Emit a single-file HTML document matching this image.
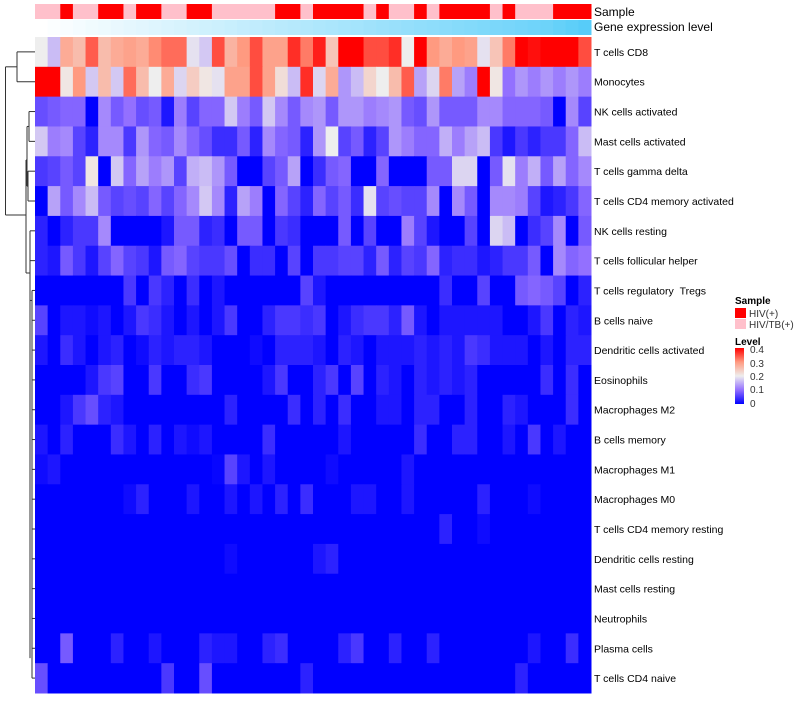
<!DOCTYPE html>
<html><head><meta charset="utf-8">
<style>
body{margin:0;background:#fff;}
svg text{font-family:"Liberation Sans",Arial,sans-serif;}
</style></head>
<body>
<svg id="chart" width="800" height="700" xmlns="http://www.w3.org/2000/svg">
<g id="dendro" stroke="#333" stroke-width="1" fill="none"></g>
<g id="cells"></g>
<g id="annot"></g>
<g id="labels"></g>
<text x="594" y="16" font-size="12">Sample</text>
<text x="594" y="31" font-size="12">Gene expression level</text>
<g>
<text x="735" y="304" font-size="10" font-weight="bold">Sample</text>
<rect x="735" y="308" width="11" height="10" fill="#FF0000"/>
<text x="749" y="317" font-size="10" fill="#333">HIV(+)</text>
<rect x="735" y="319" width="11" height="10" fill="#FFC0CB"/>
<text x="749" y="328" font-size="10" fill="#333">HIV/TB(+)</text>
<text x="735" y="345" font-size="10" font-weight="bold">Level</text>
<defs><linearGradient id="lg" x1="0" y1="1" x2="0" y2="0">
<stop offset="0" stop-color="#0000FF"/><stop offset="0.25" stop-color="#9370FF"/><stop offset="0.5" stop-color="#EEEEEE"/><stop offset="0.75" stop-color="#FF9A80"/><stop offset="1" stop-color="#FF0000"/></linearGradient></defs>
<rect x="735" y="348" width="9" height="56" fill="url(#lg)"/>
<text x="750" y="353" font-size="10" fill="#333">0.4</text>
<text x="750" y="367" font-size="10" fill="#333">0.3</text>
<text x="750" y="380" font-size="10" fill="#333">0.2</text>
<text x="750" y="393" font-size="10" fill="#333">0.1</text>
<text x="750" y="407" font-size="10" fill="#333">0</text>
</g>
</svg>
<script>
const rowNames=["T cells CD8","Monocytes","NK cells activated","Mast cells activated","T cells gamma delta","T cells CD4 memory activated","NK cells resting","T cells follicular helper","T cells regulatory \u00a0Tregs","B cells naive","Dendritic cells activated","Eosinophils","Macrophages M2","B cells memory","Macrophages M1","Macrophages M0","T cells CD4 memory resting","Dendritic cells resting","Mast cells resting","Neutrophils","Plasma cells","T cells CD4 naive"];
const sampleGroups=["T","T","H","T","T","H","H","T","H","H","T","T","H","H","T","T","T","T","T","H","H","T","H","H","H","H","T","H","T","T","H","T","H","H","H","H","T","H","T","T","T","H","H","H"];
const geneExpr=[0,0.02,0.04,0.06,0.08,0.1,0.12,0.14,0.16,0.18,0.2,0.22,0.24,0.26,0.28,0.3,0.32,0.34,0.36,0.38,0.4,0.42,0.44,0.46,0.48,0.5,0.52,0.54,0.56,0.58,0.6,0.62,0.64,0.66,0.68,0.7,0.72,0.74,0.76,0.78,0.8,0.84,0.88,0.92];
const rowCD8=[.2,.16,.28,.26,.34,.26,.28,.29,.28,.31,.33,.33,.19,.17,.35,.27,.3,.35,.29,.29,.37,.32,.38,.25,.4,.4,.35,.35,.37,.2,.4,.3,.28,.3,.29,.19,.25,.32,.4,.39,.4,.4,.4,.35];
const rowMono=[.4,.4,.21,.3,.17,.26,.17,.33,.26,.2,.28,.18,.24,.21,.19,.29,.29,.35,.29,.22,.16,.37,.18,.28,.13,.16,.23,.2,.26,.34,.14,.18,.32,.14,.11,.4,.21,.1,.13,.11,.13,.11,.13,.11];
const rowNKact=[.07,.08,.09,.09,0,.12,.08,.1,.07,.08,.02,.11,.06,.09,.09,.17,.11,.08,.17,.12,.08,.12,.13,.08,.13,.13,.11,.12,.13,.08,.07,.13,.08,.08,.08,.12,.12,.09,.09,.09,.08,0,.12,.06];
const rowMastAct=[.17,.11,.12,.06,.03,.12,.12,.05,.13,.09,.08,.12,.09,.07,.04,.04,.08,.03,.12,.09,.08,.03,.13,.2,.06,.08,.03,.06,.13,.11,.09,.09,.15,.11,.14,.16,.05,.02,.05,.03,.05,.05,.09,.16];
const rowGD=[.05,.06,.08,.06,.21,0,.17,.09,.14,.11,.13,.06,.15,.16,.13,.08,0,0,.06,.08,.14,0,.04,.08,.09,0,0,.09,0,0,0,.08,.08,.18,.18,0,.08,.19,.11,.15,.08,.14,.09,.12];
const rowCD4MA=[0,.14,.08,.12,.16,.08,.06,.07,.06,.09,.06,.09,.12,.17,.12,.03,.14,.11,0,.09,.06,.03,.09,.06,.08,.04,.19,.06,.07,.06,.06,.12,0,.12,.08,0,.12,.12,.11,.06,.02,.03,.05,.09];
const rowNKrest=[.03,0,.03,.05,.05,.12,0,0,0,0,.02,.08,.08,.03,.04,0,.08,.08,0,.05,.04,0,0,0,.08,0,.06,0,0,.11,.06,.02,0,0,.06,0,.18,.16,0,.04,.06,.12,0,.08];
const rowTfh=[.03,.02,.08,.05,.02,.06,.09,.06,.05,.02,.08,.09,.06,.05,.05,.07,0,.04,.04,0,.06,0,.05,.05,.06,.06,.03,.08,.03,.06,.05,.09,.03,.04,.04,.02,.03,.05,.05,.08,0,.12,.09,.1];
const rowTreg=[0,0,0,0,0,0,0,.05,0,.05,.03,0,.04,0,.02,0,0,0,0,0,0,.06,.02,0,0,0,0,0,0,0,0,0,.04,0,0,.06,0,0,.08,.09,.08,.06,0,.03];
const rowBnaive=[.06,0,.02,.02,.01,.02,0,.02,.05,.04,.02,0,.02,0,.02,.05,0,0,.03,.05,.05,.04,.05,0,.02,.04,.05,.05,.03,.08,.02,0,.02,.02,.02,.02,.02,0,0,.02,.05,0,.03,.02];
const rowDCact=[.02,0,.04,.02,0,.02,.03,0,.01,.03,.02,.03,.03,.02,0,0,0,.01,0,.03,.03,.03,.02,0,.03,.02,0,.02,.02,.02,.03,.02,.03,.02,.05,.04,.02,.02,.02,0,.02,0,.03,.03];
const rowEos=[0,0,0,0,.02,.05,.06,0,0,.05,0,0,.04,.05,0,0,0,0,.02,.05,0,0,.03,.05,0,.06,0,.03,.02,0,.03,.02,.03,.02,.03,0,0,0,0,0,.04,0,.04,0];
const rowM2=[0,0,.02,.05,.07,.03,.02,0,0,0,0,0,0,0,0,.03,0,0,0,0,.04,0,.03,0,.04,0,0,.02,.02,0,.03,.03,0,0,.03,0,0,.03,.02,0,0,0,.04,0];
const rowBmem=[.02,0,.03,0,0,0,.04,.02,0,.03,0,.02,.01,.02,0,0,0,0,.04,0,0,0,0,0,.02,0,0,0,0,0,.04,0,0,.03,.03,0,0,.02,0,.05,0,.02,0,0];
const rowM1=[.01,.02,0,0,0,0,0,0,0,0,0,0,0,0,.005,.06,.02,0,.02,0,0,0,0,.01,0,0,0,0,0,.02,0,0,0,0,0,0,0,0,0,0,0,0,0,0];
const rowM0=[0,0,0,0,0,0,0,.01,.03,0,0,0,.02,0,0,.02,0,.02,0,.03,0,.04,0,0,0,.02,.02,0,0,.02,0,0,0,0,0,.03,0,0,0,.01,0,0,0,0];
const rowCD4MR=[0,0,0,0,0,0,0,0,0,0,0,0,0,0,0,0,0,0,0,0,0,0,0,0,0,0,0,0,0,0,0,0,.03,0,0,.01,0,0,0,0,0,0,0,0];
const rowDCrest=[0,0,0,0,0,0,0,0,0,0,0,0,0,0,0,.01,0,0,0,0,0,0,.02,.03,0,0,0,0,0,0,0,0,0,0,0,0,0,0,0,0,0,0,0,0];
const rowMastRest=[0,0,0,0,0,0,0,0,0,0,0,0,0,0,0,0,0,0,0,0,0,0,0,0,0,0,0,0,0,0,0,0,0,0,0,0,0,0,0,0,0,0,0,0];
const rowNeut=[0,0,0,0,0,0,0,0,0,0,0,0,0,0,0,0,0,0,0,0,0,0,0,0,0,0,0,0,0,0,0,0,0,0,0,0,0,0,0,0,0,0,0,0];
const rowPlasma=[0,0,.08,0,0,0,.03,0,0,.02,0,0,0,.03,.02,.02,0,0,.03,.04,0,0,0,0,.03,.05,0,0,.03,0,0,.03,0,0,0,0,0,0,0,.02,0,0,.04,0];
const rowCD4naive=[.07,0,0,0,0,0,0,0,0,0,.05,0,0,.07,0,0,0,0,0,0,0,.03,0,0,0,0,0,0,0,0,0,0,0,0,0,0,0,0,.03,0,0,0,0,0];
const matrix=[rowCD8,rowMono,rowNKact,rowMastAct,rowGD,rowCD4MA,rowNKrest,rowTfh,rowTreg,rowBnaive,rowDCact,rowEos,rowM2,rowBmem,rowM1,rowM0,rowCD4MR,rowDCrest,rowMastRest,rowNeut,rowPlasma,rowCD4naive];

const NS="http://www.w3.org/2000/svg";
const X0=35,X1=591,Y0=37,Y1=693;
const nC=sampleGroups.length,nR=rowNames.length;
const cw=(X1-X0)/nC,rh=(Y1-Y0)/nR;
function xPos(c){return X0+c*cw;}
function yPos(r){return Y0+r*rh;}
const stops=[[0,[0,0,255]],[0.1,[147,112,255]],[0.2,[238,238,238]],[0.3,[255,154,128]],[0.4,[255,0,0]]];
function color(v){
  v=Math.max(0,Math.min(0.4,v));
  for(let i=0;i<stops.length-1;i++){
    const a=stops[i],b=stops[i+1];
    if(v<=b[0]){const t=(v-a[0])/(b[0]-a[0]);
      return 'rgb('+a[1].map((x,k)=>Math.round(x+(b[1][k]-x)*t)).join(',')+')';}
  }
  return 'rgb(255,0,0)';
}
function geneColor(t){
  const a=[255,255,255],b=[72,200,248];
  return 'rgb('+a.map((x,k)=>Math.round(x+(b[k]-x)*t)).join(',')+')';
}
const cells=document.getElementById('cells');
matrix.forEach((row,r)=>{
  row.forEach((v,c)=>{
    const el=document.createElementNS(NS,'rect');
    el.setAttribute('x',xPos(c));el.setAttribute('y',yPos(r));
    el.setAttribute('width',cw+0.5);el.setAttribute('height',rh+0.5);
    el.setAttribute('fill',color(v));
    
    
    cells.appendChild(el);
  });
});
const annot=document.getElementById('annot');
sampleGroups.forEach((g,c)=>{
  const el=document.createElementNS(NS,'rect');
  el.setAttribute('x',xPos(c));el.setAttribute('y',4);
  el.setAttribute('width',cw+0.5);el.setAttribute('height',15);
  el.setAttribute('fill',g==='H'?'#FF0000':'#FFC0CB');
  
  
  annot.appendChild(el);
});
geneExpr.forEach((t,c)=>{
  const el=document.createElementNS(NS,'rect');
  el.setAttribute('x',xPos(c));el.setAttribute('y',20);
  el.setAttribute('width',cw+0.5);el.setAttribute('height',15);
  el.setAttribute('fill',geneColor(t));
  
  
  annot.appendChild(el);
});
const labels=document.getElementById('labels');
rowNames.forEach((n,r)=>{
  const el=document.createElementNS(NS,'text');
  el.setAttribute('x',594);el.setAttribute('y',yPos(r)+rh/2+4);
  el.setAttribute('font-size','10.5');
  el.textContent=n;
  
  
  labels.appendChild(el);
});
const dendro=document.getElementById('dendro');
function yc(r){return yPos(r)+rh/2;}
const segs=[
 [17,yc(0),35,yc(0)],[17,yc(1),35,yc(1)],[17,yc(0),17,yc(1)],
 [5.5,(yc(0)+yc(1))/2,17,(yc(0)+yc(1))/2],
 [5.5,(yc(0)+yc(1))/2,5.5,215],[5.5,215,26,215],
 [26,160,26,273],
 [29,yc(2),35,yc(2)],[29,yc(3),35,yc(3)],[29,yc(2),29,yc(3)],
 [28,yc(4),35,yc(4)],[28,yc(5),35,yc(5)],[28,yc(4),28,yc(5)],
 [27,(yc(2)+yc(3))/2,29,(yc(2)+yc(3))/2],[27,(yc(4)+yc(5))/2,28,(yc(4)+yc(5))/2],
 [27,(yc(2)+yc(3))/2,27,(yc(4)+yc(5))/2],[26,160,27,160],
 [26,273,30,273],[30,yc(6),30,yc(21)-20],
 [30,yc(6),35,yc(6)],[30,yc(7),35,yc(7)]
];
for(let r=8;r<22;r++){segs.push([32,yc(r),35,yc(r)]);}
segs.push([32,yc(8),32,yc(21)]);segs.push([30,yc(8)+10,32,yc(8)+10]);
segs.forEach(s=>{
  const l=document.createElementNS(NS,'line');
  l.setAttribute('x1',s[0]);l.setAttribute('y1',s[1]);l.setAttribute('x2',s[2]);l.setAttribute('y2',s[3]);
  
  
  dendro.appendChild(l);
});
</script>
</body></html>
